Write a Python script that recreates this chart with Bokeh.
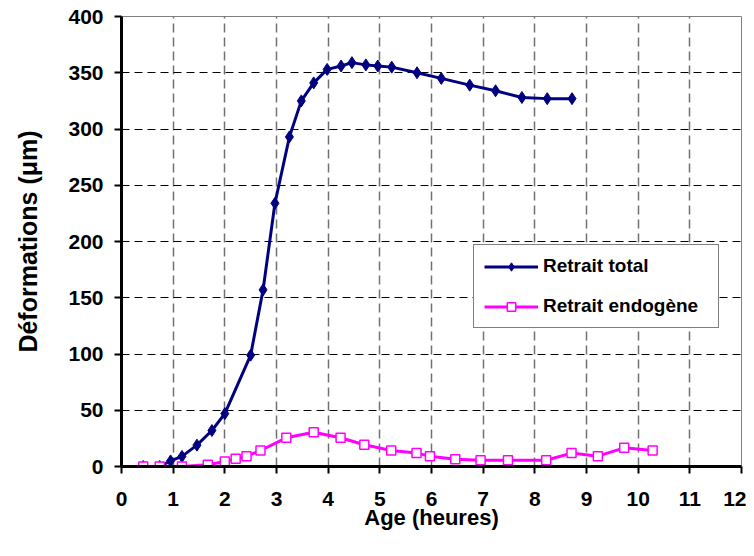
from bokeh.plotting import figure
from bokeh.models import Range1d, FixedTicker, Legend, LegendItem
from bokeh.embed import file_html
from bokeh.resources import INLINE

# ---- data ----
age_total = [0.42, 0.74, 0.95, 1.17, 1.46, 1.75, 2.0, 2.5, 2.74, 2.97, 3.25, 3.48, 3.72,
             3.98, 4.25, 4.46, 4.73, 4.96, 5.23, 5.72, 6.19, 6.74, 7.24, 7.75, 8.24, 8.72]
retrait_total = [0, 0, 5, 9, 19, 32, 47, 99, 157, 234, 293, 325, 341,
                 353, 356, 359, 357, 356, 355, 350, 345, 339, 334, 328, 327, 327]

age_endo = [0.42, 0.74, 1.17, 1.67, 2.0, 2.21, 2.42, 2.69, 3.19, 3.72, 4.24, 4.70,
            5.22, 5.71, 5.97, 6.46, 6.95, 7.48, 8.22, 8.71, 9.22, 9.73, 10.28]
retrait_endo = [0, 0, 0, 1.5, 4.4, 6.8, 9.2, 14.2, 25.5, 30.5, 25.5, 19.3,
                14.2, 11.9, 9.2, 6.5, 5.6, 5.6, 5.6, 11.9, 9.2, 16.6, 14.2]

x_ticks = list(range(0, 13))
y_ticks = list(range(0, 401, 50))
label_total = "Retrait total"
label_endo = "Retrait endogène"
x_title = "Age (heures)"
y_title = "Déformations (μm)"

FONT = "Liberation Sans"

p = figure(width=746, height=548, output_backend="svg", toolbar_location=None,
           x_range=Range1d(0, 12), y_range=Range1d(0, 400),
           min_border_left=121, min_border_right=5, min_border_top=16, min_border_bottom=82)
p.background_fill_color = "white"
p.border_fill_color = "white"
p.outline_line_color = "#808080"
p.outline_line_width = 1

# grids
p.xgrid.ticker = FixedTicker(ticks=x_ticks)
p.ygrid.ticker = FixedTicker(ticks=y_ticks)
p.xgrid.grid_line_color = "#707070"
p.xgrid.grid_line_dash = "9 5"
p.xgrid.grid_line_width = 1.5
p.ygrid.grid_line_color = "black"
p.ygrid.grid_line_dash = "8 5"
p.ygrid.grid_line_width = 1

# axes
for ax, ticks in ((p.xaxis[0], x_ticks), (p.yaxis[0], y_ticks)):
    ax.ticker = FixedTicker(ticks=ticks)
    ax.axis_line_width = 3
    ax.axis_line_color = "black"
    ax.major_tick_line_width = 2
    ax.major_tick_line_color = "black"
    ax.major_tick_out = 7
    ax.major_tick_in = 0
    ax.minor_tick_line_color = None
    ax.major_label_text_font = FONT
    ax.major_label_text_font_style = "bold"
    ax.major_label_text_font_size = "21px"
    ax.major_label_text_color = "black"
    ax.axis_label_text_font = FONT
    ax.axis_label_text_font_style = "bold"
    ax.axis_label_text_color = "black"

p.xaxis.axis_label = x_title
p.yaxis.axis_label = y_title
p.xaxis.axis_label_text_font_size = "22px"
p.yaxis.axis_label_text_font_size = "25px"
p.xaxis.major_label_standoff = 18
p.yaxis.major_label_standoff = 11
p.xaxis.axis_label_standoff = -4
p.yaxis.axis_label_standoff = 23

# series
l1 = p.line(age_total, retrait_total, line_color="#000080", line_width=3)
s1 = p.scatter(age_total, retrait_total, marker="diamond", size=12,
               fill_color="#000080", line_color="#000080", line_width=1)
l2 = p.line(age_endo, retrait_endo, line_color="#FF00FF", line_width=3)
s2 = p.scatter(age_endo, retrait_endo, marker="square", size=9,
               fill_color="white", line_color="#FF00FF", line_width=1.5)

legend = Legend(items=[LegendItem(label=label_total, renderers=[l1, s1]),
                       LegendItem(label=label_endo, renderers=[l2, s2])],
                location=(352, 138))
legend.border_line_color = "black"
legend.border_line_width = 1
legend.background_fill_color = "white"
legend.background_fill_alpha = 1
legend.label_text_font = FONT
legend.label_text_font_style = "bold"
legend.label_text_font_size = "19px"
legend.label_text_color = "black"
legend.padding = 10
legend.spacing = 18
legend.glyph_width = 54
legend.glyph_height = 21
legend.label_height = 21
legend.label_standoff = 5
legend.label_width = 165
legend.margin = 0
p.add_layout(legend, "center")

open("out.html", "w").write(file_html(p, INLINE))
